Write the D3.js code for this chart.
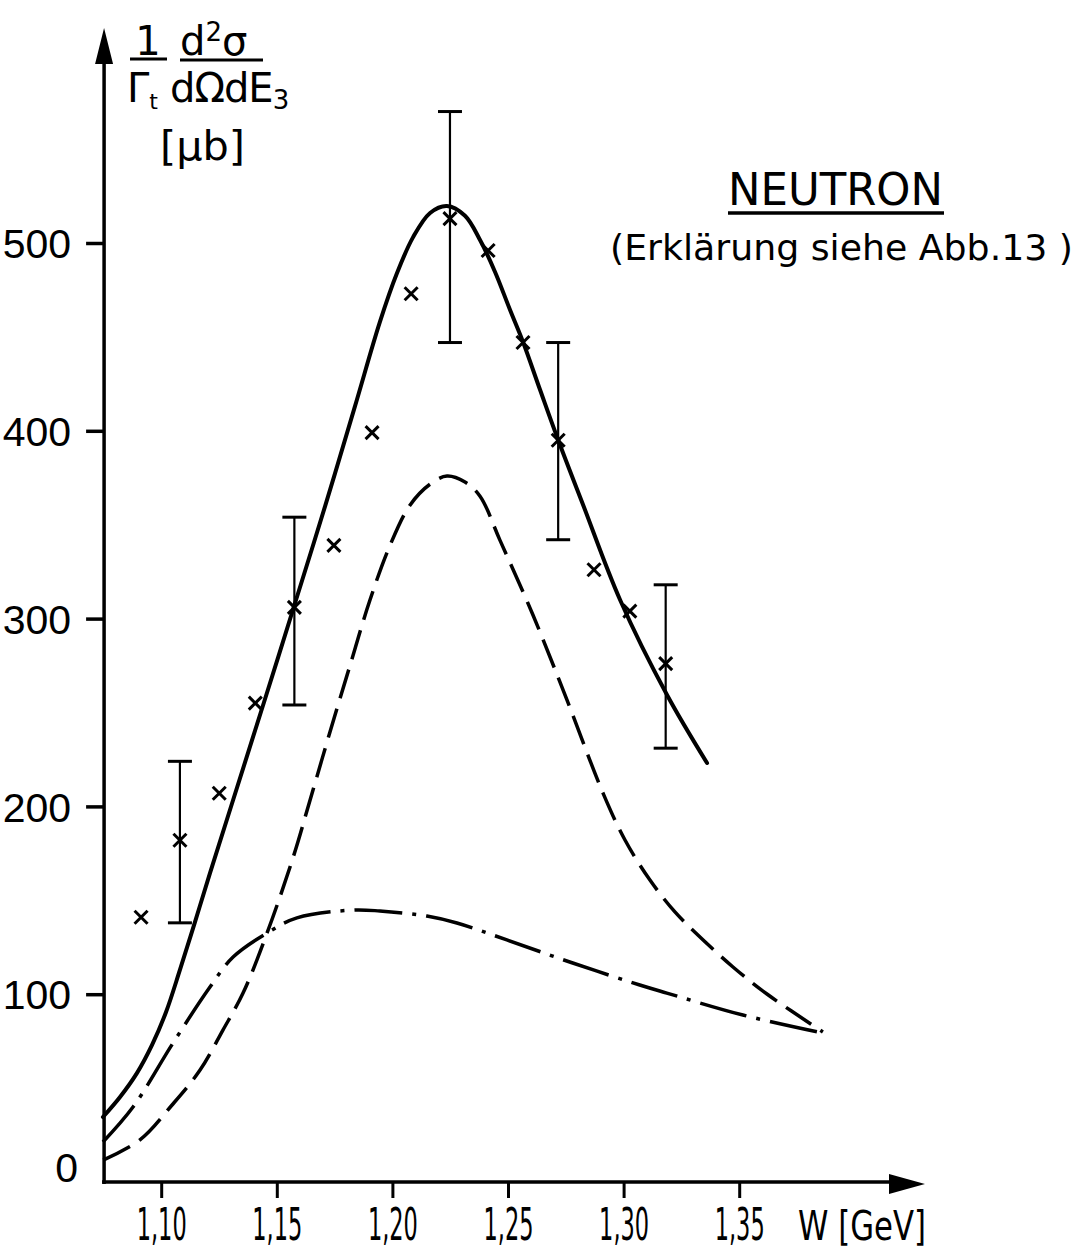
<!DOCTYPE html>
<html>
<head>
<meta charset="utf-8">
<script src="https://cdn.jsdelivr.net/npm/d3@7"></script>
<style>
  html, body { margin: 0; padding: 0; background: #fff; }
  svg { display: block; }
  text { fill: #000; }
</style>
</head>
<body>
<svg id="chart" width="1083" height="1251"></svg>
<script>
// Measured cross sections (W in GeV, value in µb)
const pointW   = [1.0913, 1.1081, 1.1251, 1.1407, 1.1576, 1.1747, 1.1912, 1.2081, 1.2249, 1.2414, 1.2565, 1.2717, 1.2872, 1.3027, 1.3182];
const pointVal = [141, 182, 207, 255, 306, 339, 399, 473, 513, 496, 447, 395, 326, 304, 276];

// Points carrying error bars: W, lower, upper
const errW    = [1.1081, 1.1576, 1.2249, 1.2717, 1.3182];
const errLow  = [138, 254, 447, 342, 231];
const errHigh = [224, 354, 570, 447, 318];

// Full calculation (solid)
const totalW   = [1.0748, 1.0822, 1.0895, 1.0960, 1.1021, 1.1081, 1.1146, 1.1211, 1.1311, 1.1445, 1.1575, 1.1709, 1.1838, 1.1946, 1.2020, 1.2089, 1.2163, 1.2236, 1.2314, 1.2379, 1.2444, 1.2509, 1.2565, 1.2639, 1.2717, 1.2825, 1.2985, 1.3188, 1.3361];
const totalVal = [34.6, 45.3, 58.0, 72.9, 90.5, 112.9, 138.4, 164.5, 203.4, 255.6, 306.7, 359.9, 413, 458, 484, 503, 516, 519.7, 514.5, 501.6, 484.6, 464.3, 447.3, 421.7, 395.1, 360.5, 309.9, 259.3, 223.1];

// Resonant part (dashed)
const resW   = [1.0749, 1.0908, 1.1047, 1.1168, 1.1267, 1.1354, 1.1458, 1.1571, 1.1644, 1.1730, 1.1817, 1.1903, 1.1990, 1.2076, 1.2163, 1.2236, 1.2314, 1.2379, 1.2465, 1.2608, 1.2755, 1.2911, 1.3006, 1.3114, 1.3222, 1.3344, 1.3473, 1.3620, 1.3862];
const resVal = [11.7, 22.4, 41, 59.6, 80.9, 100.6, 132.6, 173, 203.4, 239.6, 275.2, 309.9, 339.1, 360.4, 371.6, 375.9, 372.7, 365.2, 341.8, 301.9, 256.7, 207.1, 182.1, 160.8, 143.8, 128.9, 114.5, 100.1, 79.9];

// Background part (dash-dot)
const bgW   = [1.0748, 1.0878, 1.1051, 1.1211, 1.1311, 1.1458, 1.1587, 1.1829, 1.1946, 1.2149, 1.2279, 1.2495, 1.2780, 1.3070, 1.3187, 1.3516, 1.3862];
const bgVal = [21.3, 39.9, 74, 103.8, 119.8, 132.6, 140.6, 144.8, 144.3, 141.6, 137.9, 128.9, 116.6, 104.9, 100.6, 88.9, 79.3];

// Axis ticks
const xTicks = [1.10, 1.15, 1.20, 1.25, 1.30, 1.35];
const xTickLabels = ["1,10", "1,15", "1,20", "1,25", "1,30", "1,35"];
const yTicks = [0, 100, 200, 300, 400, 500];
const yTickLabels = ["0", "100", "200", "300", "400", "500"];

const svg = d3.select("#chart");

const x = d3.scaleLinear().domain([1.10, 1.35]).range([161.2, 739.2]);
const y = d3.scaleLinear().domain([0, 500]).range([1182, 243]);

const axisX0 = x(1.0753);   // position of the vertical axis
const axisY0 = y(0);

// ---- axes ----
const axes = svg.append("g").attr("stroke", "#000").attr("fill", "#000");

// vertical axis with arrow
axes.append("line")
  .attr("x1", axisX0).attr("y1", axisY0 + 2)
  .attr("x2", axisX0).attr("y2", 55)
  .attr("stroke-width", 3.5);
axes.append("path")
  .attr("d", `M${axisX0},28 L${axisX0 - 9},64 L${axisX0 + 9},64 Z`)
  .attr("stroke", "none");

// horizontal axis with arrow
axes.append("line")
  .attr("x1", axisX0 - 2).attr("y1", axisY0)
  .attr("x2", 900).attr("y2", axisY0)
  .attr("stroke-width", 3.5);
axes.append("path")
  .attr("d", `M925,${axisY0 + 2} L889,${axisY0 - 8} L889,${axisY0 + 12} Z`)
  .attr("stroke", "none");

// x ticks
const xAxis = d3.axisBottom(x)
  .tickValues(xTicks)
  .tickSize(16)
  .tickFormat((d, i) => xTickLabels[i]);
const gx = svg.append("g")
  .attr("transform", `translate(0,${axisY0})`)
  .call(xAxis);
gx.select(".domain").remove();
gx.selectAll(".tick line").attr("stroke", "#000").attr("stroke-width", 3);
gx.selectAll(".tick text")
  .attr("y", 0)
  .attr("dy", null)
  .attr("transform", "translate(0,58)")
  .attr("font-family", "'Liberation Sans Narrow', 'DejaVu Sans Condensed', sans-serif")
  .attr("font-size", 45)
  .attr("textLength", 50)
  .attr("lengthAdjust", "spacingAndGlyphs")
  .attr("fill", "#000");

svg.append("text")
  .attr("x", 798).attr("y", 1240)
  .attr("font-family", "'DejaVu Sans', sans-serif")
  .attr("font-size", 40)
  .attr("textLength", 128)
  .attr("lengthAdjust", "spacingAndGlyphs")
  .text("W [GeV]");

// y ticks
const yAxis = d3.axisLeft(y)
  .tickValues(yTicks)
  .tickSize(18)
  .tickFormat((d, i) => yTickLabels[i]);
const gy = svg.append("g")
  .attr("transform", `translate(${axisX0},0)`)
  .call(yAxis);
gy.select(".domain").remove();
gy.selectAll(".tick line")
  .attr("stroke", "#000").attr("stroke-width", 3.5)
  .attr("display", d => d === 0 ? "none" : null);
gy.selectAll(".tick text")
  .attr("x", d => d === 0 ? -26 : -33)
  .attr("dy", d => d === 0 ? "-0.02em" : "0.36em")
  .attr("font-family", "'Liberation Sans', 'DejaVu Sans', sans-serif")
  .attr("font-size", 41)
  .attr("fill", "#000");

// ---- y axis title: 1/Γt · d²σ/(dΩ dE3) [µb] ----
const title = svg.append("g")
  .attr("font-family", "'DejaVu Sans', sans-serif")
  .attr("font-size", 40);
title.append("text").attr("x", 148).attr("y", 55).attr("text-anchor", "middle")
  .attr("font-size", 40).text("1");
title.append("line").attr("x1", 130).attr("x2", 167).attr("y1", 59).attr("y2", 59)
  .attr("stroke", "#000").attr("stroke-width", 3);
const num = title.append("text").attr("x", 180).attr("y", 55);
num.append("tspan").text("d");
num.append("tspan").attr("font-size", 26).attr("dy", -14).text("2");
num.append("tspan").attr("dy", 14).text("σ");
title.append("line").attr("x1", 180).attr("x2", 263).attr("y1", 60).attr("y2", 60)
  .attr("stroke", "#000").attr("stroke-width", 3);
const gam = title.append("text").attr("x", 127).attr("y", 102);
gam.append("tspan").text("Γ");
gam.append("tspan").attr("font-size", 22).attr("dy", 7).text("t");
const den = title.append("text").attr("x", 170).attr("y", 102)
  .attr("letter-spacing", -1);
den.append("tspan").text("dΩdE");
den.append("tspan").attr("font-size", 26).attr("dy", 7).text("3");
title.append("text").attr("x", 160).attr("y", 160)
  .attr("font-size", 41)
  .attr("textLength", 85).attr("lengthAdjust", "spacingAndGlyphs")
  .text("[μb]");

// ---- annotation ----
svg.append("text")
  .attr("x", 728).attr("y", 205)
  .attr("font-family", "'DejaVu Sans', sans-serif")
  .attr("font-size", 44)
  .attr("textLength", 215).attr("lengthAdjust", "spacingAndGlyphs")
  .text("NEUTRON");
svg.append("line")
  .attr("x1", 728).attr("x2", 944).attr("y1", 213).attr("y2", 213)
  .attr("stroke", "#000").attr("stroke-width", 3.5);
svg.append("text")
  .attr("x", 610).attr("y", 260)
  .attr("font-family", "'DejaVu Sans', sans-serif")
  .attr("font-size", 35)
  .attr("textLength", 463).attr("lengthAdjust", "spacingAndGlyphs")
  .text("(Erklärung siehe Abb.13 )");

// ---- curves ----
const line = d3.line()
  .x(d => x(d[0]))
  .y(d => y(d[1]))
  .curve(d3.curveCatmullRom.alpha(0.5));

const zip = (a, b) => a.map((v, i) => [v, b[i]]);

svg.append("path")
  .datum(zip(totalW, totalVal))
  .attr("d", line)
  .attr("fill", "none").attr("stroke", "#000")
  .attr("stroke-width", 4).attr("stroke-linecap", "round");

svg.append("path")
  .datum(zip(resW, resVal))
  .attr("d", line)
  .attr("fill", "none").attr("stroke", "#000")
  .attr("stroke-width", 3.5)
  .attr("stroke-dasharray", "30,11");

svg.append("path")
  .datum(zip(bgW, bgVal))
  .attr("d", line)
  .attr("fill", "none").attr("stroke", "#000")
  .attr("stroke-width", 3.5)
  .attr("stroke-dasharray", "48,10,4,10");

// ---- error bars ----
const eb = svg.append("g").attr("stroke", "#000").attr("stroke-width", 2.2);
errW.forEach((w, i) => {
  const cx = x(w);
  eb.append("line").attr("x1", cx).attr("x2", cx)
    .attr("y1", y(errLow[i])).attr("y2", y(errHigh[i]));
  eb.append("line").attr("x1", cx - 12).attr("x2", cx + 12)
    .attr("y1", y(errLow[i])).attr("y2", y(errLow[i])).attr("stroke-width", 3);
  eb.append("line").attr("x1", cx - 12).attr("x2", cx + 12)
    .attr("y1", y(errHigh[i])).attr("y2", y(errHigh[i])).attr("stroke-width", 3);
});

// ---- data points (crosses) ----
const pts = svg.append("g").attr("stroke", "#000").attr("stroke-width", 3);
pointW.forEach((w, i) => {
  const cx = x(w), cy = y(pointVal[i]), r = 6.5;
  pts.append("line").attr("x1", cx - r).attr("y1", cy - r).attr("x2", cx + r).attr("y2", cy + r);
  pts.append("line").attr("x1", cx - r).attr("y1", cy + r).attr("x2", cx + r).attr("y2", cy - r);
});
</script>
</body>
</html>
